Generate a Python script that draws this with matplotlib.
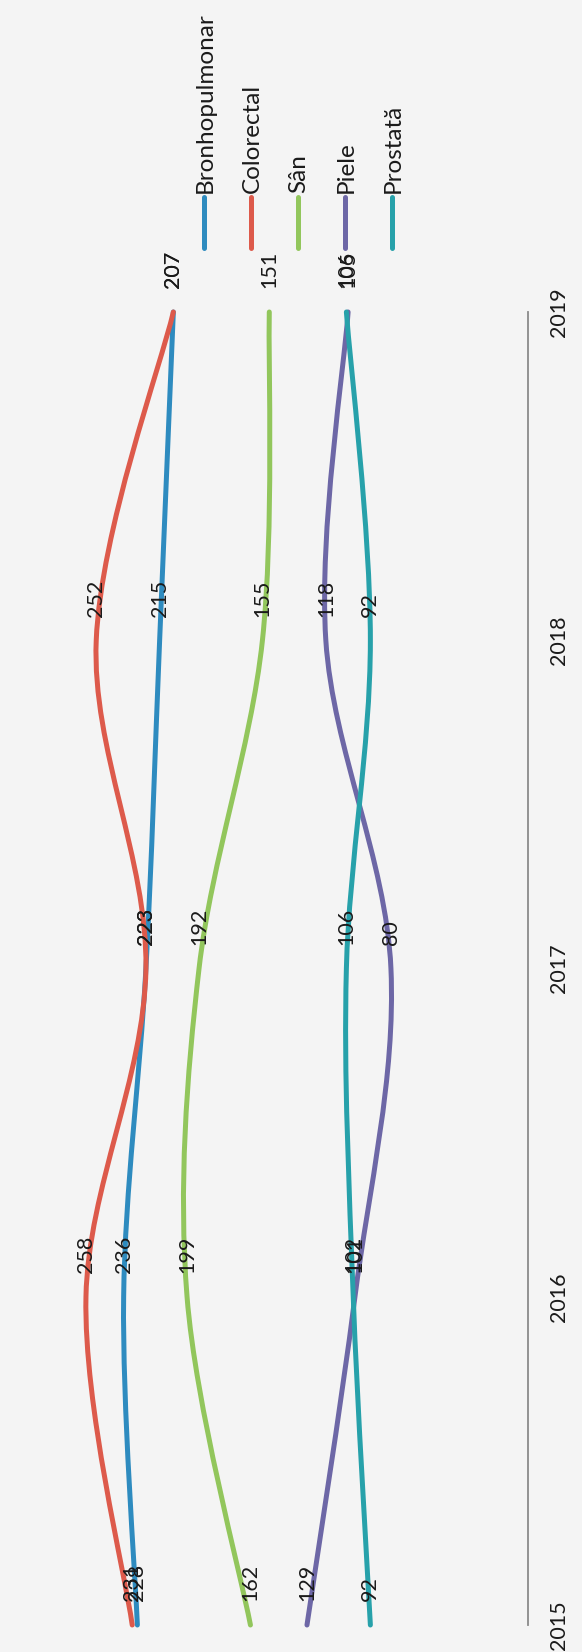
import numpy as np
import matplotlib.pyplot as plt
from matplotlib.path import Path
from matplotlib.patches import PathPatch
from matplotlib.lines import Line2D

plt.rcParams['font.family'] = ['Lato', 'DejaVu Sans']

years = ['2015', '2016', '2017', '2018', '2019']
series_names = ['Bronhopulmonar', 'Colorectal', 'Sân', 'Piele', 'Prostată']
bronhopulmonar = [228, 236, 223, 215, 207]
colorectal = [231, 258, 223, 252, 207]
san = [162, 199, 192, 155, 151]
piele = [129, 101, 80, 118, 105]
prostata = [92, 102, 106, 92, 106]
all_series = [bronhopulmonar, colorectal, san, piele, prostata]
colors = ['#2e8bbf', '#dd5a4b', '#92c65c', '#6d67a6', '#27a1aa']

W, H = 582, 1652


def smooth_path(xs, ys):
    # excel-like smoothed line (catmull-rom as bezier)
    pts = np.column_stack([xs, ys]).astype(float)
    n = len(pts)
    verts = [pts[0]]
    codes = [Path.MOVETO]
    for i in range(n - 1):
        p0 = pts[max(i - 1, 0)]
        p1 = pts[i]
        p2 = pts[i + 1]
        p3 = pts[min(i + 2, n - 1)]
        verts += [p1 + (p2 - p0) / 6, p2 - (p3 - p1) / 6, p2]
        codes += [Path.CURVE4] * 3
    return Path(verts, codes)


def fig_xy(x, y):
    return x / W, 1 - y / H


fig = plt.figure(figsize=(W / 100, H / 100), dpi=100)
fig.patch.set_facecolor('#f4f4f4')

ax = fig.add_axes([14 / W, 27 / H, 514 / W, 1313 / H])
ax.set_facecolor('none')
ax.set_xlim(300, 0)
ax.set_ylim(0, 4)

idx = np.arange(len(years))
for vals, col in zip(all_series, colors):
    patch = PathPatch(smooth_path(vals, idx), facecolor='none', edgecolor=col,
                      lw=3.6, capstyle='round', joinstyle='round', clip_on=False)
    ax.add_patch(patch)

for vals in all_series:
    for i, v in enumerate(vals):
        ax.annotate(str(v), (v, i), xytext=(0, 17), textcoords='offset points',
                    rotation=90, ha='center', va='bottom', fontsize=15.5,
                    color='#1a1a1a')

for s in ['top', 'bottom', 'left']:
    ax.spines[s].set_visible(False)
ax.spines['right'].set_color('#8a8a8a')
ax.spines['right'].set_linewidth(1.3)
ax.set_xticks([])
ax.yaxis.tick_right()
ax.set_yticks(idx)
ax.set_yticklabels(years, rotation=90, va='center', ha='left', fontsize=15.5,
                   color='#1a1a1a')
ax.tick_params(axis='y', length=0, pad=15)

# legend (drawn by hand, rotated)
for i, (name, col) in enumerate(zip(series_names, colors)):
    xc = 204 + 47 * i
    x0, y0 = fig_xy(xc, 197)
    x1, y1 = fig_xy(xc, 248)
    fig.add_artist(Line2D([x0, x1], [y0, y1], color=col, lw=3.6,
                          solid_capstyle='round', transform=fig.transFigure))
    tx, ty = fig_xy(xc + 1, 193)
    fig.text(tx, ty, name, rotation=90, ha='center', va='bottom',
             fontsize=17.5, color='#1a1a1a')

fig.savefig('out.png', dpi=100, facecolor=fig.get_facecolor())
